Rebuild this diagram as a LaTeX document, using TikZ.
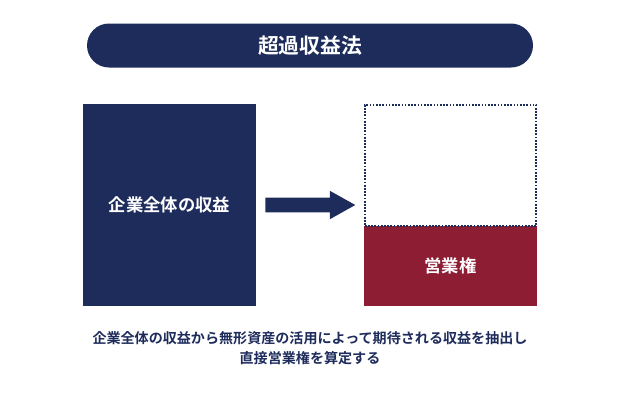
\documentclass[tikz,border=0pt]{standalone}
\usepackage{fontspec}
\setmainfont{Noto Sans CJK JP}[BoldFont={* Bold}]
\usetikzlibrary{positioning}
\usetikzlibrary{shapes.arrows}
\usetikzlibrary{shapes.misc}
\definecolor{navyblue}{HTML}{1E2C5C}
\definecolor{darkred}{HTML}{8C1D33}
\tikzset{x=0.75pt,y=0.75pt,
	lbl/.style={text=white,text height=11.44pt,text depth=1.56pt,font=\bfseries\fontsize{13pt}{15pt}\selectfont},
	box/.style={fill=navyblue,minimum width=129.75pt,minimum height=151.5pt,inner sep=0pt},
}
\begin{document}
\begin{tikzpicture}[y=-0.75pt]
	\useasboundingbox (0,0) rectangle (620,400);

	%Title
	\node[rounded rectangle,fill=navyblue,minimum width=334.5pt,minimum height=33pt,inner sep=0pt,lbl,text height=13.7pt,text depth=1.9pt,font=\bfseries\fontsize{15.6pt}{18pt}\selectfont] (Title) at (310,45.5) {超過収益法};

	%Boxes
	\node[box,lbl] (Whole) at (169.5,205) {企業全体の収益};

	\node[fill=darkred,minimum width=129.75pt,minimum height=59.6pt,inner sep=0pt,lbl] (Goodwill) at (450.5,266.2) {営業権};

	\node[draw=navyblue,dash pattern=on 1.3pt off 1.1pt,line width=1.5pt,outer sep=0pt,minimum width=128.5pt,minimum height=91pt,inner sep=0pt,anchor=south] (Rest) at (Goodwill.north) {};

	%Arrow
	\node[single arrow,fill=navyblue,text height=10.5pt,text depth=0pt,text width=0pt,single arrow head extend=5.25pt,single arrow head indent=0pt,single arrow tip angle=58.5,minimum height=67.5pt,inner sep=0pt,anchor=tail] (Arrow) at (265,205) {};

	%Caption
	\node[align=center,text=navyblue,font=\bfseries\fontsize{10.55pt}{15pt}\selectfont] (Caption) at (310,348) {企業全体の収益から無形資産の活用によって期待される収益を抽出し\\直接営業権を算定する};
\end{tikzpicture}
\end{document}
